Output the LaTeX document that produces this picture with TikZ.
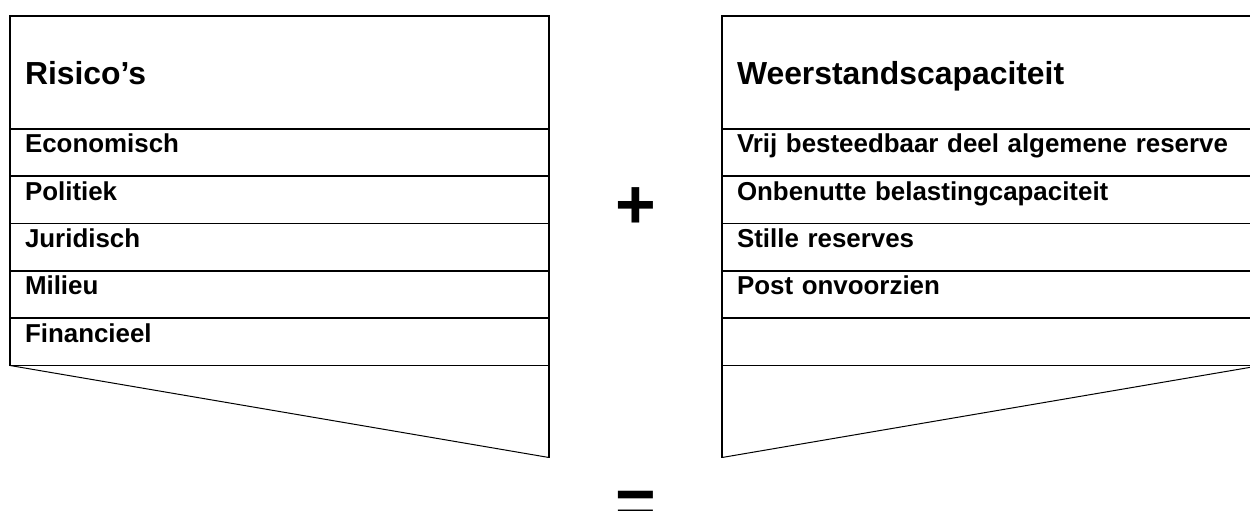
\documentclass[tikz,border=0pt]{standalone}
\usepackage{fontspec}
\setmainfont{Liberation Sans}
\usetikzlibrary{calc,positioning}

\tikzset{
    cell/.style={draw, line width=1.6bp, inner xsep=15bp, inner ysep=0pt,
        outer sep=0pt, text width=509bp, align=left, anchor=north west,
        font=\fontsize{26}{30}\selectfont\bfseries,
        text height=24bp, text depth=23.3bp},
    headcell/.style={cell, font=\fontsize{32}{36}\selectfont\bfseries,
        text height=69bp, text depth=44bp},
    slope/.style={line width=1bp},
    sign/.style={font=\fontsize{70}{80}\selectfont\bfseries, inner sep=0pt}
}

\begin{document}
\begin{tikzpicture}[x=1bp, y=-1bp]
    \useasboundingbox (0,0) rectangle (1250,511);

    % risico's
    \node[headcell] (risk) at (10,16) {Risico’s};
    \node[cell, below=0pt of risk] (risk1) {Economisch};
    \node[cell, below=0pt of risk1] (risk2) {Politiek};
    \node[cell, below=0pt of risk2] (risk3) {Juridisch};
    \node[cell, below=0pt of risk3] (risk4) {Milieu};
    \node[cell, below=0pt of risk4] (risk5) {Financieel};
    \coordinate (riskTip) at ($(risk5.south east)+(0,92)$);
    \draw[line width=1.6bp] (risk5.south east) -- (riskTip);
    \draw[slope] (risk5.south west) -- (riskTip);

    % weerstandscapaciteit
    \node[headcell] (cap) at (722,16) {Weerstandscapaciteit};
    \node[cell, below=0pt of cap] (cap1) {Vrij besteedbaar deel algemene reserve};
    \node[cell, below=0pt of cap1] (cap2) {Onbenutte belastingcapaciteit};
    \node[cell, below=0pt of cap2] (cap3) {Stille reserves};
    \node[cell, below=0pt of cap3] (cap4) {Post onvoorzien};
    \node[cell, below=0pt of cap4] (cap5) {};
    \coordinate (capTip) at ($(cap5.south west)+(0,92)$);
    \draw[line width=1.6bp] (cap5.south west) -- (capTip);
    \draw[slope] (cap5.south east) -- (capTip);

    \node[sign] (plus) at (636,208) {+};
    \node[sign] (equals) at (636,509) {=};
\end{tikzpicture}
\end{document}
